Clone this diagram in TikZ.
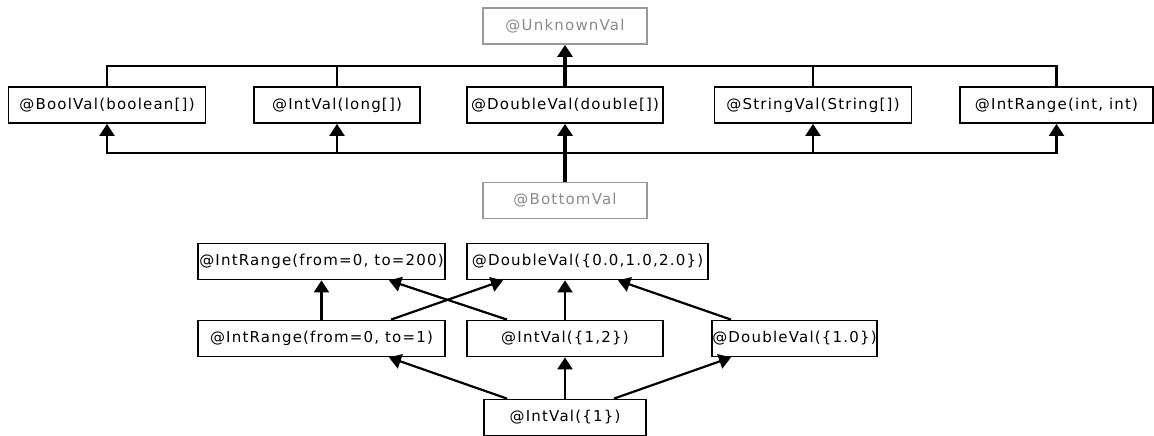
\documentclass[tikz,border=0pt]{standalone}
\usepackage{fontspec}
\newfontfamily\valfont[LetterSpace=8]{DejaVu Sans}
\usetikzlibrary{arrows.meta}

\begin{document}
\begin{tikzpicture}[x=1pt,y=-1pt,
  valbox/.style={draw, line width=1.8pt, fill=white, inner sep=0pt, minimum height=36pt,
    font={\valfont\fontsize{15pt}{18pt}\selectfont}},
  greybox/.style={valbox, draw=black!40, text=black!45},
  link/.style={line width=2.2pt},
  arr/.style={line width=2.2pt, -{Triangle[width=15pt,length=12pt]}},
  fat/.style={line width=4.5pt}]
\useasboundingbox (0,0) rectangle (1154,436);

% upper lattice
\node[greybox, minimum width=164pt] (unk)   at (565,26)    {@UnknownVal};
\node[valbox, minimum width=197pt]  (boolv) at (107,105)   {@BoolVal(boolean[])};
\node[valbox, minimum width=166pt]  (longv) at (337,105)   {@IntVal(long[])};
\node[valbox, minimum width=196pt]  (dblv)  at (565,105)   {@DoubleVal(double[])};
\node[valbox, minimum width=197pt]  (strv)  at (813,105)   {@StringVal(String[])};
\node[valbox, minimum width=193pt]  (rngv)  at (1056.5,105) {@IntRange(int, int)};
\node[greybox, minimum width=164pt] (bot)   at (565,200.5) {@BottomVal};

\coordinate (upbus)  at (565,66);
\coordinate (lowbus) at (565,153);

\draw[link] (boolv.north) |- (upbus);
\draw[link] (longv.north) |- (upbus);
\draw[link] (strv.north)  |- (upbus);
\draw[link] (rngv.north)  |- (upbus);
\draw[arr, fat] (dblv.north) -- (unk.south);

\draw[arr, fat] (bot.north) -- (dblv.south);
\draw[arr] (lowbus) -| (boolv.south);
\draw[arr] (lowbus) -| (longv.south);
\draw[arr] (lowbus) -| (strv.south);
\draw[arr] (lowbus) -| (rngv.south);

% lower example
\node[valbox, minimum width=247pt] (r200) at (321.5,261.5) {@IntRange(from=0, to=200)};
\node[valbox, minimum width=241pt] (d012) at (587.5,261.5) {@DoubleVal(\{0.0,1.0,2.0\})};
\node[valbox, minimum width=247pt] (r1)   at (321.5,338.5) {@IntRange(from=0, to=1)};
\node[valbox, minimum width=196pt] (i12)  at (565,338.5)   {@IntVal(\{1,2\})};
\node[valbox, minimum width=165pt] (d10)  at (794.5,338.5) {@DoubleVal(\{1.0\})};
\node[valbox, minimum width=162pt] (i1)   at (565,417.5)   {@IntVal(\{1\})};

\draw[arr] (r1.north) -- (r200.south);
\draw[arr] ([xshift=69.5pt]r1.north) -- ([xshift=-84.5pt]d012.south);
\draw[arr] ([xshift=-58pt]i12.north) -- ([xshift=67.5pt]r200.south);
\draw[arr] (i12.north) -- ([xshift=-22.5pt]d012.south);
\draw[arr] ([xshift=-63.5pt]d10.north) -- ([xshift=30.5pt]d012.south);

\draw[arr] ([xshift=-58pt]i1.north) -- ([xshift=67.5pt]r1.south);
\draw[arr] (i1.north) -- (i12.south);
\draw[arr] ([xshift=49pt]i1.north) -- ([xshift=-63.5pt]d10.south);
\end{tikzpicture}
\end{document}
